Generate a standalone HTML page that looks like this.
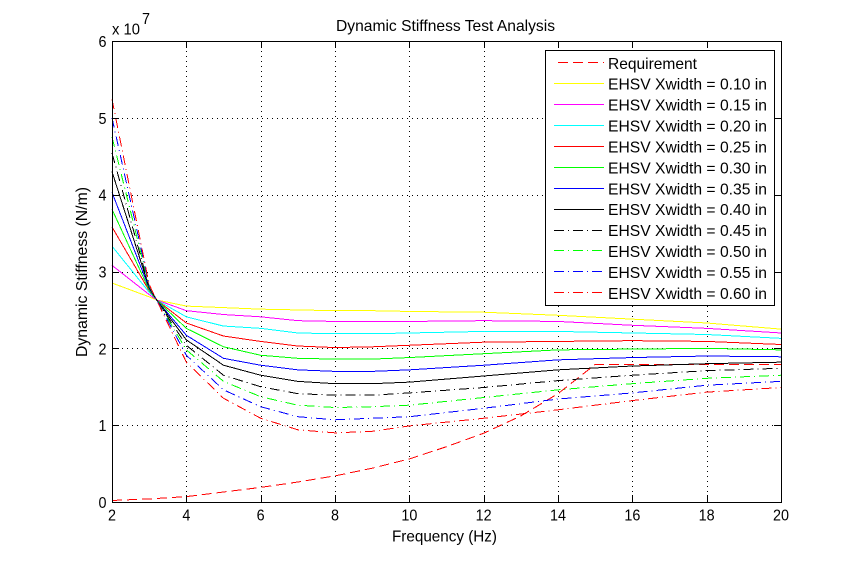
<!DOCTYPE html>
<html lang="en">
<head>
<meta charset="utf-8">
<title>Dynamic Stiffness Test Analysis</title>
<style>
html,body{margin:0;padding:0;background:#fff;}
svg{display:block;font-family:"Liberation Sans",Arial,sans-serif;}
text{fill:#000;}
</style>
</head>
<body>
<svg id="chart" width="863" height="564" viewBox="0 0 863 564" xmlns="http://www.w3.org/2000/svg">
  <rect x="0" y="0" width="863" height="564" fill="#fff"/>
  <text x="445.5" y="31" font-size="16" text-anchor="middle" textLength="219" lengthAdjust="spacingAndGlyphs">Dynamic Stiffness Test Analysis</text>
  <text x="444.5" y="541.5" font-size="16" text-anchor="middle" textLength="105" lengthAdjust="spacingAndGlyphs">Frequency (Hz)</text>
  <text transform="translate(87,272) rotate(-90)" font-size="16" text-anchor="middle" textLength="170" lengthAdjust="spacingAndGlyphs">Dynamic Stiffness (N/m)</text>
  <text x="112" y="34.5" font-size="16" textLength="28" lengthAdjust="spacingAndGlyphs">x 10</text>
  <text x="142" y="24" font-size="16" textLength="8" lengthAdjust="spacingAndGlyphs">7</text>
  <g id="grid"></g>
  <g id="series"></g>
  <g id="axes"></g>
  <g id="legend"></g>
</svg>
<script>
const frequency = [2, 3, 3.2, 4, 5, 6, 7, 8, 9, 10, 12, 14, 16, 18, 20];
const requirementFrequency = [2, 3, 4, 5, 6, 7, 8, 9, 10, 11, 12, 13, 14, 15, 16, 18, 20];
const requirement = [0.02, 0.04, 0.07, 0.13, 0.19, 0.26, 0.34, 0.44, 0.56, 0.72, 0.895, 1.12, 1.41, 1.79, 1.79, 1.79, 1.79];
const xwidth010 = [2.85, 2.67, 2.63, 2.55, 2.53, 2.51, 2.50, 2.49, 2.49, 2.48, 2.47, 2.43, 2.38, 2.33, 2.25];
const xwidth015 = [3.08, 2.70, 2.63, 2.49, 2.44, 2.41, 2.36, 2.35, 2.35, 2.35, 2.36, 2.35, 2.30, 2.26, 2.20];
const xwidth020 = [3.33, 2.73, 2.63, 2.41, 2.29, 2.26, 2.20, 2.19, 2.19, 2.20, 2.22, 2.22, 2.20, 2.18, 2.13];
const xwidth025 = [3.58, 2.75, 2.63, 2.33, 2.16, 2.09, 2.03, 2.01, 2.02, 2.04, 2.08, 2.09, 2.10, 2.09, 2.05];
const xwidth030 = [3.81, 2.76, 2.63, 2.26, 2.02, 1.91, 1.87, 1.86, 1.86, 1.88, 1.93, 1.98, 1.99, 2.00, 1.98];
const xwidth035 = [4.03, 2.78, 2.63, 2.17, 1.87, 1.78, 1.72, 1.70, 1.70, 1.72, 1.78, 1.85, 1.88, 1.90, 1.89];
const xwidth040 = [4.30, 2.79, 2.63, 2.11, 1.78, 1.65, 1.57, 1.54, 1.54, 1.56, 1.64, 1.72, 1.77, 1.80, 1.82];
const xwidth045 = [4.54, 2.80, 2.63, 2.04, 1.65, 1.50, 1.41, 1.39, 1.39, 1.42, 1.49, 1.58, 1.65, 1.71, 1.74];
const xwidth050 = [4.75, 2.81, 2.63, 1.98, 1.57, 1.37, 1.26, 1.23, 1.24, 1.26, 1.36, 1.46, 1.54, 1.61, 1.65];
const xwidth055 = [5.00, 2.82, 2.63, 1.91, 1.46, 1.24, 1.11, 1.07, 1.09, 1.11, 1.22, 1.34, 1.42, 1.52, 1.57];
const xwidth060 = [5.24, 2.83, 2.63, 1.82, 1.35, 1.09, 0.94, 0.90, 0.92, 0.99, 1.09, 1.20, 1.32, 1.43, 1.49];
const xTickLabels = [2, 4, 6, 8, 10, 12, 14, 16, 18, 20];
const yTickLabels = [0, 1, 2, 3, 4, 5, 6];

const NS = 'http://www.w3.org/2000/svg';
const PLOT = {left: 112, right: 781, top: 41, bottom: 502};
const DOMAIN = {xMin: 2, xMax: 20, yMin: 0, yMax: 6};
const xAxis = v => PLOT.left + (v - DOMAIN.xMin) * (PLOT.right - PLOT.left) / (DOMAIN.xMax - DOMAIN.xMin);
const yAxis = v => PLOT.bottom - (v - DOMAIN.yMin) * (PLOT.bottom - PLOT.top) / (DOMAIN.yMax - DOMAIN.yMin);

const LONG_DASH = '10 5';
const DASH_DOT = '10 4 1 4';

const seriesList = [
  {key: 'requirement', label: 'Requirement', xs: requirementFrequency, ys: requirement, color: '#ff0000', dash: LONG_DASH},
  {key: 'xwidth-010', label: 'EHSV Xwidth = 0.10 in', xs: frequency, ys: xwidth010, color: '#ffff00', dash: ''},
  {key: 'xwidth-015', label: 'EHSV Xwidth = 0.15 in', xs: frequency, ys: xwidth015, color: '#ff00ff', dash: ''},
  {key: 'xwidth-020', label: 'EHSV Xwidth = 0.20 in', xs: frequency, ys: xwidth020, color: '#00ffff', dash: ''},
  {key: 'xwidth-025', label: 'EHSV Xwidth = 0.25 in', xs: frequency, ys: xwidth025, color: '#ff0000', dash: ''},
  {key: 'xwidth-030', label: 'EHSV Xwidth = 0.30 in', xs: frequency, ys: xwidth030, color: '#00ff00', dash: ''},
  {key: 'xwidth-035', label: 'EHSV Xwidth = 0.35 in', xs: frequency, ys: xwidth035, color: '#0000ff', dash: ''},
  {key: 'xwidth-040', label: 'EHSV Xwidth = 0.40 in', xs: frequency, ys: xwidth040, color: '#000000', dash: ''},
  {key: 'xwidth-045', label: 'EHSV Xwidth = 0.45 in', xs: frequency, ys: xwidth045, color: '#000000', dash: DASH_DOT},
  {key: 'xwidth-050', label: 'EHSV Xwidth = 0.50 in', xs: frequency, ys: xwidth050, color: '#00ff00', dash: DASH_DOT},
  {key: 'xwidth-055', label: 'EHSV Xwidth = 0.55 in', xs: frequency, ys: xwidth055, color: '#0000ff', dash: DASH_DOT},
  {key: 'xwidth-060', label: 'EHSV Xwidth = 0.60 in', xs: frequency, ys: xwidth060, color: '#ff0000', dash: DASH_DOT}
];

function make(tag, parent, attrs) {
  const el = document.createElementNS(NS, tag);
  for (const k in attrs) el.setAttribute(k, attrs[k]);
  parent.appendChild(el);
  return el;
}

const gridGroup = document.getElementById('grid');
const axesGroup = document.getElementById('axes');
const seriesGroup = document.getElementById('series');
const legendGroup = document.getElementById('legend');
const GRID_STYLE = {stroke: '#000', 'stroke-width': 1, 'stroke-dasharray': '1 4', 'shape-rendering': 'crispEdges'};
const TICK_STYLE = {stroke: '#000', 'stroke-width': 1, 'shape-rendering': 'crispEdges'};
const DIGIT_WIDTH = 8;

xTickLabels.forEach(t => {
  const x = Math.round(xAxis(t)) + 0.5;
  if (t !== DOMAIN.xMin && t !== DOMAIN.xMax) {
    const g = make('line', gridGroup, Object.assign({x1: x, x2: x, y1: PLOT.bottom, y2: PLOT.top}, GRID_STYLE));
    
    
    const t1 = make('line', axesGroup, Object.assign({x1: x, x2: x, y1: PLOT.bottom, y2: PLOT.bottom - 7}, TICK_STYLE));
    
    
    const t2 = make('line', axesGroup, Object.assign({x1: x, x2: x, y1: PLOT.top, y2: PLOT.top + 7}, TICK_STYLE));
    
    
  }
  const lab = make('text', axesGroup, {x: xAxis(t), y: 520.5, 'font-size': 16, 'text-anchor': 'middle', textLength: String(t).length * DIGIT_WIDTH, lengthAdjust: 'spacingAndGlyphs'});
  lab.textContent = String(t);
  
  
});

yTickLabels.forEach(t => {
  const y = Math.round(yAxis(t)) + 0.5;
  if (t !== DOMAIN.yMin && t !== DOMAIN.yMax) {
    const g = make('line', gridGroup, Object.assign({x1: PLOT.left, x2: PLOT.right, y1: y, y2: y}, GRID_STYLE));
    
    
    const t1 = make('line', axesGroup, Object.assign({x1: PLOT.left, x2: PLOT.left + 7, y1: y, y2: y}, TICK_STYLE));
    
    
    const t2 = make('line', axesGroup, Object.assign({x1: PLOT.right, x2: PLOT.right - 7, y1: y, y2: y}, TICK_STYLE));
    
    
  }
  const lab = make('text', axesGroup, {x: 106.5, y: yAxis(t) + 6, 'font-size': 16, 'text-anchor': 'end', textLength: DIGIT_WIDTH, lengthAdjust: 'spacingAndGlyphs'});
  lab.textContent = String(t);
  
  
});

const frame = make('rect', axesGroup, {x: PLOT.left + 0.5, y: PLOT.top + 0.5, width: PLOT.right - PLOT.left, height: PLOT.bottom - PLOT.top, fill: 'none', stroke: '#000', 'stroke-width': 1, 'shape-rendering': 'crispEdges'});



seriesList.forEach(s => {
  const pts = s.xs.map((f, i) => xAxis(f).toFixed(2) + ',' + yAxis(s.ys[i]).toFixed(2)).join(' ');
  const line = make('polyline', seriesGroup, {points: pts, fill: 'none', stroke: s.color, 'stroke-width': 1, 'shape-rendering': 'crispEdges'});
  if (s.dash) line.setAttribute('stroke-dasharray', s.dash);
  
  
});

const LEGEND_BOX = {x: 545, y: 50, width: 229, height: 255};
const legendBox = make('rect', legendGroup, {x: LEGEND_BOX.x + 0.5, y: LEGEND_BOX.y + 0.5, width: LEGEND_BOX.width, height: LEGEND_BOX.height, fill: '#fff', stroke: '#000', 'stroke-width': 1, 'shape-rendering': 'crispEdges'});



seriesList.forEach((s, i) => {
  const rowY = 63.3 + i * 20.91;
  const startX = s.dash === LONG_DASH ? 558 : 554;
  const sample = make('line', legendGroup, {x1: startX, x2: 604, y1: Math.round(rowY) - 0.5, y2: Math.round(rowY) - 0.5, stroke: s.color, 'stroke-width': 1, 'shape-rendering': 'crispEdges'});
  if (s.dash) sample.setAttribute('stroke-dasharray', s.dash);
  
  
  const label = make('text', legendGroup, {x: 608, y: rowY + 5.5, 'font-size': 16, textLength: s.dash === LONG_DASH ? 89 : 159, lengthAdjust: 'spacingAndGlyphs'});
  label.textContent = s.label;
  
  
});
</script>
</body>
</html>
